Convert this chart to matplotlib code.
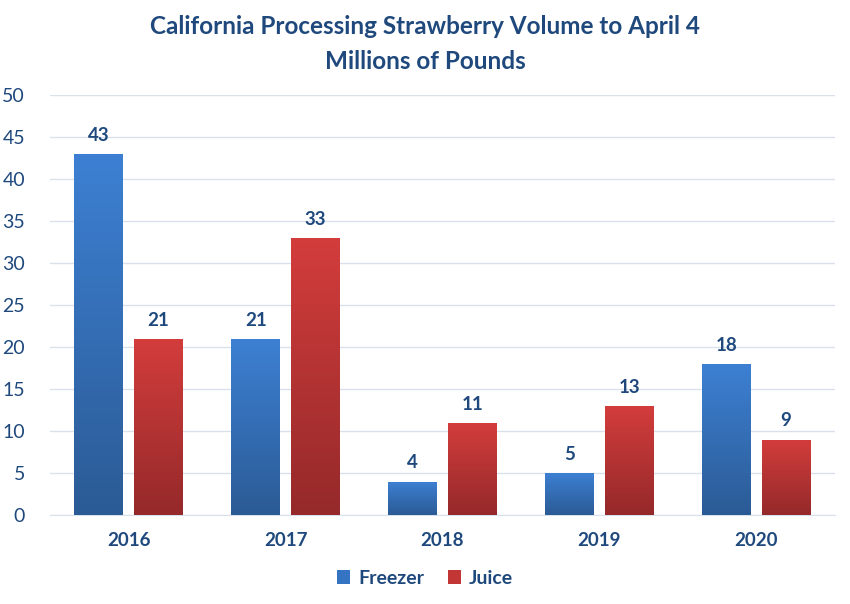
import matplotlib
matplotlib.use('Agg')
import matplotlib.pyplot as plt
import numpy as np
from matplotlib.colors import LinearSegmentedColormap
from matplotlib.patches import Patch

# chart data
years = ['2016', '2017', '2018', '2019', '2020']
freezer = [43, 21, 4, 5, 18]
juice = [21, 33, 11, 13, 9]

text_color = '#1F497D'
plt.rcParams['font.family'] = ['Lato', 'DejaVu Sans']

fig = plt.figure(figsize=(8.5, 6.04), dpi=100)
ax = fig.add_axes([0.059, 0.147, 0.923, 0.696])

x = np.arange(len(years))
width = 0.31
offset = 0.19

blue_cmap = LinearSegmentedColormap.from_list('blue', ['#2B5B95', '#3D80D3'])
red_cmap = LinearSegmentedColormap.from_list('red', ['#95292A', '#D33D3C'])


def gradient_bars(xs, vals, cmap, label):
    bars = ax.bar(xs, vals, width, color='none', edgecolor='none', label=label, zorder=3)
    grad = np.linspace(0, 1, 256).reshape(-1, 1)
    for b in bars:
        # each bar gets its own dark-to-light fade, bottom to top
        x0, w, h = b.get_x(), b.get_width(), b.get_height()
        im = ax.imshow(grad, cmap=cmap, origin='lower', aspect='auto',
                       extent=[x0, x0 + w, 0, h], zorder=3)
        im.set_clip_path(b)
    for xv, v in zip(xs, vals):
        ax.text(xv, v + 1.2, str(v), ha='center', va='bottom', fontsize=13.5,
                fontweight='bold', color=text_color, zorder=4)
    return bars


gradient_bars(x - offset, freezer, blue_cmap, 'Freezer')
gradient_bars(x + offset, juice, red_cmap, 'Juice')

ax.set_xlim(-0.5, len(years) - 0.5)
ax.set_ylim(0, 50)
ax.set_yticks(range(0, 51, 5))
ax.set_xticks(x)
ax.set_xticklabels(years, fontsize=13.5, fontweight='bold', color=text_color)
ax.tick_params(axis='y', labelsize=14, labelcolor=text_color, length=0, pad=18)
ax.tick_params(axis='x', length=0, pad=12)
ax.grid(axis='y', color='#D9E1EC', linewidth=1, zorder=0)
ax.set_axisbelow(True)
for s in ['top', 'right', 'left']:
    ax.spines[s].set_visible(False)
ax.spines['bottom'].set_color('#D9E1EC')

fig.suptitle('California Processing Strawberry Volume to April 4\nMillions of Pounds',
             y=0.975, fontsize=17.5, fontweight='bold', color=text_color, linespacing=1.65)

handles = [Patch(facecolor='#3574C2'), Patch(facecolor='#C23636')]
leg = fig.legend(handles, ['Freezer', 'Juice'], loc='center', bbox_to_anchor=(0.5, 0.043),
                 ncol=2, frameon=False, handlelength=0.7, handleheight=0.7,
                 handletextpad=0.4, columnspacing=1.2,
                 prop={'size': 14, 'weight': 'bold'})
for t in leg.get_texts():
    t.set_color(text_color)

fig.savefig('out.png', dpi=100)
